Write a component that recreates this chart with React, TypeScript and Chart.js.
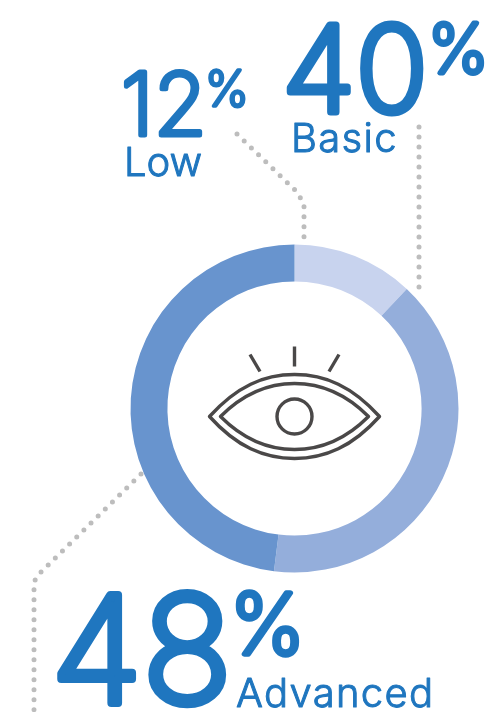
import React, { useEffect, useRef } from "react";
import { Chart, registerables } from "chart.js";

Chart.register(...registerables);

const categories = ["Low", "Basic", "Advanced"];
const shares = [12, 40, 48];
const sliceColors = ["#c8d3ee", "#94aedb", "#6894ce"];

const WIDTH = 493;
const HEIGHT = 712;
const INK = "#1f76bf";
const EYE = "#4a4848";
const DOTS = "#bdbdbd";
const FAMILY = "Inter, 'Open Sans', sans-serif";

// Callout layout, one entry per category.
const numberSizes = [86, 120, 149];
const numberStrokes = [5, 7, 8];
const numberAnchors = [[121, 134.5], [282, 111.5], [51, 703]];
const percentSizes = [49, 68, 84];
const percentAnchors = [[205, 106], [428, 73], [230, 654]];
const nameSizes = [40, 40, 40];
const nameSpacing = ["0px", "1.3px", "1.3px"];
const nameAnchors = [[124, 176], [291, 152], [236, 707]];
const leaderPaths = [
  [[237, 134], [297, 192], [304, 204], [304, 246]],
  [[419, 127], [419, 296]],
  [[141, 474], [38, 575], [34, 582], [34, 712]],
];

const drawLeaders = (ctx: CanvasRenderingContext2D) => {
  ctx.save();
  ctx.strokeStyle = DOTS;
  ctx.lineWidth = 5;
  ctx.lineCap = "round";
  ctx.lineJoin = "round";
  ctx.setLineDash([0, 10]);
  leaderPaths.forEach((path) => {
    ctx.beginPath();
    path.forEach(([x, y], i) => (i ? ctx.lineTo(x, y) : ctx.moveTo(x, y)));
    ctx.stroke();
  });
  ctx.restore();
};

const drawEye = (ctx: CanvasRenderingContext2D, cx: number, cy: number) => {
  const lid = (halfW: number, halfH: number) => {
    ctx.beginPath();
    ctx.moveTo(cx - halfW, cy);
    ctx.bezierCurveTo(cx - halfW * 0.68, cy - halfH * 0.72, cx - halfW * 0.36, cy - halfH, cx, cy - halfH);
    ctx.bezierCurveTo(cx + halfW * 0.36, cy - halfH, cx + halfW * 0.68, cy - halfH * 0.72, cx + halfW, cy);
    ctx.bezierCurveTo(cx + halfW * 0.68, cy + halfH * 0.72, cx + halfW * 0.36, cy + halfH, cx, cy + halfH);
    ctx.bezierCurveTo(cx - halfW * 0.36, cy + halfH, cx - halfW * 0.68, cy + halfH * 0.72, cx - halfW, cy);
    ctx.closePath();
    ctx.stroke();
  };
  ctx.save();
  ctx.strokeStyle = EYE;
  ctx.lineWidth = 3.4;
  ctx.lineJoin = "round";
  lid(85, 42);
  lid(74, 33);
  ctx.beginPath();
  ctx.arc(cx, cy, 17.5, 0, Math.PI * 2);
  ctx.stroke();
  [[0, -70, 0, -50], [-44.5, -62, -34.5, -45], [44.5, -62, 34.5, -45]].forEach(([a, b, c, d]) => {
    ctx.beginPath();
    ctx.moveTo(cx + a, cy + b);
    ctx.lineTo(cx + c, cy + d);
    ctx.stroke();
  });
  ctx.restore();
};

const drawCallouts = (ctx: CanvasRenderingContext2D) => {
  ctx.save();
  ctx.fillStyle = INK;
  ctx.strokeStyle = INK;
  ctx.lineJoin = "round";
  ctx.textBaseline = "alphabetic";
  categories.forEach((name, i) => {
    ctx.font = `200 ${numberSizes[i]}px ${FAMILY}`;
    ctx.lineWidth = numberStrokes[i];
    const [nx, ny] = numberAnchors[i];
    ctx.fillText(String(shares[i]), nx, ny);
    ctx.strokeText(String(shares[i]), nx, ny);

    ctx.font = `200 ${percentSizes[i]}px ${FAMILY}`;
    ctx.lineWidth = numberStrokes[i] * 0.7;
    const [px, py] = percentAnchors[i];
    ctx.fillText("%", px, py);
    ctx.strokeText("%", px, py);

    ctx.font = `300 ${nameSizes[i]}px ${FAMILY}`;
    (ctx as any).letterSpacing = nameSpacing[i];
    ctx.lineWidth = 1;
    const [tx, ty] = nameAnchors[i];
    ctx.fillText(name, tx, ty);
    ctx.strokeText(name, tx, ty);
    (ctx as any).letterSpacing = "0px";
  });
  ctx.restore();
};

const infographic = {
  id: "infographic",
  beforeDatasetsDraw(chart: Chart) {
    drawLeaders(chart.ctx);
  },
  afterDatasetsDraw(chart: Chart) {
    const arc: any = chart.getDatasetMeta(0).data[0];
    drawEye(chart.ctx, arc.x, arc.y + 8);
    drawCallouts(chart.ctx);
  },
};

export default function App() {
  const canvasRef = useRef<HTMLCanvasElement>(null);

  useEffect(() => {
    const chart = new Chart(canvasRef.current!, {
      type: "doughnut",
      data: {
        labels: categories,
        datasets: [{ data: shares, backgroundColor: sliceColors, borderWidth: 0 }],
      },
      options: {
        responsive: false,
        animation: false,
        cutout: "77.5%",
        layout: { padding: { left: 130.5, right: 34.5, top: 244.5, bottom: 139.5 } },
        plugins: { legend: { display: false }, tooltip: { enabled: false } },
      },
      plugins: [infographic],
    });
    return () => chart.destroy();
  }, []);

  return (
    <div style={{ position: "absolute", left: 0, top: 0, width: WIDTH, height: HEIGHT, background: "#fff" }}>
      <canvas ref={canvasRef} width={WIDTH} height={HEIGHT} style={{ display: "block" }} />
    </div>
  );
}
